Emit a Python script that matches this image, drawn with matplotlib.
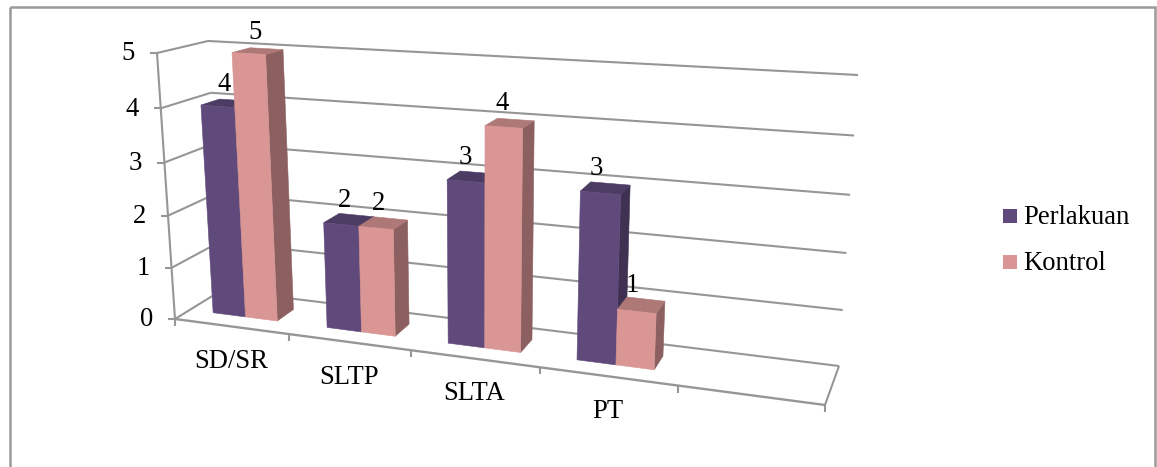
import matplotlib
matplotlib.use("Agg")
import matplotlib.pyplot as plt
from matplotlib.patches import Polygon, Rectangle

# Chart data
categories = ["SD/SR", "SLTP", "SLTA", "PT"]
perlakuan = [4, 2, 3, 3]
kontrol = [5, 2, 4, 1]
value_ticks = [0, 1, 2, 3, 4, 5]
series_names = ["Perlakuan", "Kontrol"]

W, H = 1157, 467
plt.rcParams["font.family"] = ["Liberation Serif", "DejaVu Serif"]
FONT = 19.2
GRID = "#969696"

fig = plt.figure(figsize=(W / 100, H / 100), dpi=100)
ax = fig.add_axes([0, 0, 1, 1])
ax.set_xlim(0, W)
ax.set_ylim(H, 0)
ax.axis("off")

# Screen corners of the 3D box: (right?, back?, top?)
CORNERS = {
    (0, 0, 0): (175, 319), (0, 0, 1): (157, 53),
    (0, 1, 0): (222, 290), (0, 1, 1): (208, 41),
    (1, 0, 0): (825, 405), (1, 0, 1): (846, 95),
    (1, 1, 0): (839, 366), (1, 1, 1): (858, 75),
}
N_SLOTS = 5      # four categories plus one empty slot on the right
V_MAX = 5
PERSPECTIVE_U = 1.17
PERSPECTIVE_V = 1.05
DEPTH_FRONT, DEPTH_BACK = 0.32, 0.70
BAR_EDGES = (0.21, 0.50, 0.78)


def foreshorten(s, k):
    """Projective spacing along one axis of the box."""
    return s / (s + k * (1 - s))


def project(u, d, v):
    """Map category slot u, depth d (0-1) and value v to canvas pixels."""
    a = foreshorten(u / N_SLOTS, PERSPECTIVE_U)
    c = foreshorten(v / V_MAX, PERSPECTIVE_V)
    px = py = 0.0
    for i in (0, 1):
        for j in (0, 1):
            for k in (0, 1):
                w = (a if i else 1 - a) * (d if j else 1 - d) * (c if k else 1 - c)
                px += w * CORNERS[(i, j, k)][0]
                py += w * CORNERS[(i, j, k)][1]
    return px, py


def line(p, q, lw=1.5):
    ax.plot([p[0], q[0]], [p[1], q[1]], color=GRID, lw=lw, solid_capstyle="butt", zorder=1)


def box(u0, u1, value, front, top, side):
    d0, d1 = DEPTH_FRONT, DEPTH_BACK
    faces = [
        ([(u1, d0, 0), (u1, d1, 0), (u1, d1, value), (u1, d0, value)], side),
        ([(u0, d0, value), (u1, d0, value), (u1, d1, value), (u0, d1, value)], top),
        ([(u0, d0, 0), (u1, d0, 0), (u1, d0, value), (u0, d0, value)], front),
    ]
    for pts, col in faces:
        ax.add_patch(Polygon([project(*p) for p in pts], closed=True, facecolor=col,
                             edgecolor=col, lw=0.4, zorder=3))


# Outer frame, open past the bottom of the canvas
ax.add_patch(Rectangle((10, 7), 1145, H + 10, fill=False, edgecolor="#9a9a9a", lw=1.8, zorder=0))

# Walls, floor and axis lines
for v in value_ticks:
    line(project(0, 1, v), project(N_SLOTS, 1, v))
    line(project(0, 0, v), project(0, 1, v))
    x, y = project(0, 0, v)
    line((x - 7, y), (x, y))
    ax.text(x - 22, y + 1, str(v), ha="right", va="center", fontsize=FONT, color="black", zorder=5)
line(project(0, 0, 0), project(0, 0, V_MAX))
line(project(0, 0, 0), project(N_SLOTS, 0, 0), lw=1.7)
line(project(N_SLOTS, 0, 0), project(N_SLOTS, 1, 0))
for u in range(N_SLOTS + 1):
    x, y = project(u, 0, 0)
    line((x, y), (x, y + 7))

# Category labels under the front edge
for i, name in enumerate(categories):
    x, y = project(i + 0.5, 0, 0)
    ax.text(x, y + 35, name, ha="center", va="center", fontsize=FONT, color="black", zorder=5)

# Bars and their value labels
SERIES_COLORS = [("#604A7B", "#4C3B62", "#403152"), ("#D99694", "#AE7877", "#8C6060")]
for i in range(len(categories)):
    for j, values in enumerate((perlakuan, kontrol)):
        u0, u1 = i + BAR_EDGES[j], i + BAR_EDGES[j + 1]
        box(u0, u1, values[i], *SERIES_COLORS[j])
for i in range(len(categories)):
    for j, values in enumerate((perlakuan, kontrol)):
        u0, u1 = i + BAR_EDGES[j], i + BAR_EDGES[j + 1]
        x, y = project((u0 + u1) / 2 - 0.03 - 0.015 * i, 0.5, values[i])
        ax.text(x + 1, y - 19, str(values[i]), ha="center", va="center",
                fontsize=FONT, color="black", zorder=6)

# Legend
for name, (col, _, _), y in zip(series_names, SERIES_COLORS, (216, 262)):
    ax.add_patch(Rectangle((1003, y - 7), 14, 14, facecolor=col, edgecolor="none", zorder=4))
    ax.text(1023, y + 1, name, ha="left", va="center", fontsize=FONT, color="black", zorder=5)

fig.savefig("out.png", dpi=100, facecolor="white")
